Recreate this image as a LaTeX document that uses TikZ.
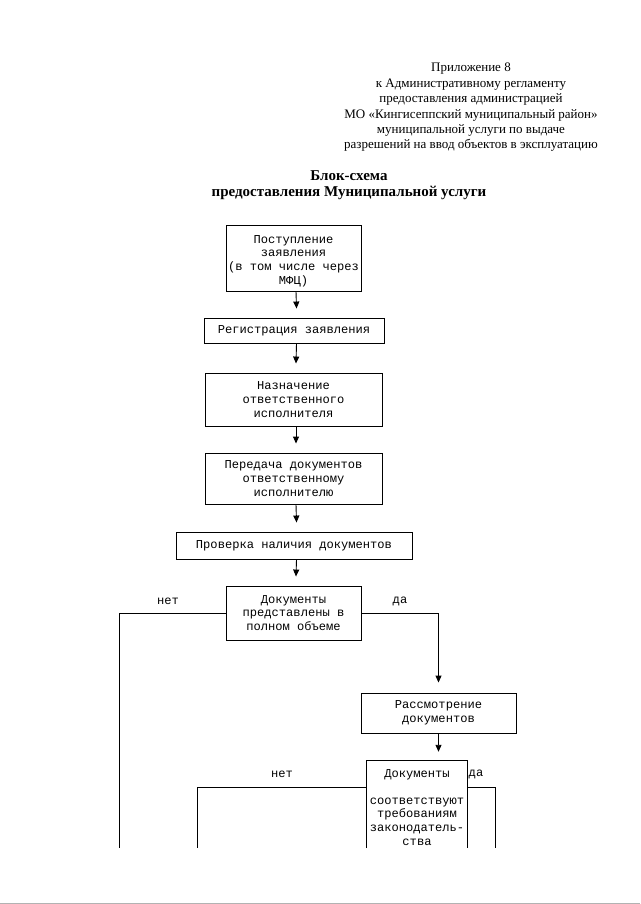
\documentclass[tikz,border=0pt]{standalone}
\usepackage{fontspec}
\setmainfont{Liberation Serif}
\newfontfamily\boxfont{Liberation Mono}
\usetikzlibrary{arrows.meta}
\begin{document}
\begin{tikzpicture}[x=1pt,y=-1pt,
  box/.style={draw, line width=0.9pt, rectangle, align=center, inner sep=0pt,
              font=\boxfont\fontsize{12.1}{13.6}\selectfont},
  conn/.style={line width=0.9pt},
  arr/.style={line width=0.9pt, -{Triangle[width=6pt,length=7pt]}},
  lbl/.style={font=\boxfont\fontsize{12.1}{13.6}\selectfont, inner sep=0pt},
  head/.style={align=center, inner sep=0pt, font=\fontsize{13}{15.4}\selectfont},
  title/.style={align=center, inner sep=0pt, font=\bfseries\fontsize{15}{16}\selectfont}]
\useasboundingbox (0,0) rectangle (640,904);

% header
\node[head] (hdr) at (471,107.5) {Приложение 8\\к Административному регламенту\\предоставления администрацией\\МО «Кингисеппский муниципальный район»\\муниципальной услуги по выдаче\\разрешений на ввод объектов в эксплуатацию};
\node[title] (ttl) at (349,185) {Блок-схема\\предоставления Муниципальной услуги};

% boxes
\node[box, minimum width=135pt, minimum height=66pt] (b1) at (293.5,258) {\rule{0pt}{14pt}Поступление\\заявления\\(в том числе через\\МФЦ)};
\node[box, minimum width=180pt, minimum height=25pt] (b2) at (294,330.5) {Регистрация заявления};
\node[box, minimum width=177pt, minimum height=53pt] (b3) at (293.5,399.5) {Назначение\\ответственного\\исполнителя};
\node[box, minimum width=177pt, minimum height=51pt] (b4) at (293.5,478.5) {Передача документов\\ответственному\\исполнителю};
\node[box, minimum width=236pt, minimum height=27pt] (b5) at (294,545.5) {Проверка наличия документов};
\node[box, minimum width=135pt, minimum height=54pt] (b6) at (293.5,613) {Документы\\представлены в\\полном объеме};
\node[box, minimum width=155pt, minimum height=40pt] (b7) at (438.5,713) {Рассмотрение\\документов};
\node[draw=none, minimum width=100pt, minimum height=87pt, inner sep=0pt] (b8) at (417,804.5) {};
\node[box, draw=none] (t8) at (417,807.5) {Документы\\[13pt]соответствуют\\требованиям\\законодатель-\\ства};
\draw[conn] (b8.south west) -- (b8.north west) -- (b8.north east) -- (b8.south east);

% arrows down the main column
\draw[arr] ([xshift=2.5pt]b1.south) -- ([xshift=2.5pt,yshift=9pt]b2.north);
\draw[arr] ([xshift=2.5pt]b2.south) -- ([xshift=2.5pt,yshift=9pt]b3.north);
\draw[arr] ([xshift=2.5pt]b3.south) -- ([xshift=2.5pt,yshift=9pt]b4.north);
\draw[arr] ([xshift=2.5pt]b4.south) -- ([xshift=2.5pt,yshift=9pt]b5.north);
\draw[arr] ([xshift=2.5pt]b5.south) -- ([xshift=2.5pt,yshift=9pt]b6.north);

% first decision
\coordinate (e6l) at (119,848);
\draw[conn] (b6.west) -| (e6l);
\draw[arr] (b6.east) -| ([yshift=10pt]b7.north);
\node[lbl] (n1) at (168,601) {нет};
\node[lbl] (d1) at (400,601) {да};

% second decision
\draw[arr] (b7.south) -- ([yshift=9pt]b8.north -| b7.south);
\coordinate (e8l) at (197,848);
\coordinate (e8r) at (495,848);
\draw[conn] ([yshift=-27pt]b8.north west) -| (e8l);
\draw[conn] ([yshift=-27pt]b8.north east) -| (e8r);
\node[lbl] (n2) at (282,774) {нет};
\node[lbl] (d2) at (476,774) {да};

% page edge
\draw[gray!60, line width=1pt] (0,903) -- (640,903);
\end{tikzpicture}
\end{document}
